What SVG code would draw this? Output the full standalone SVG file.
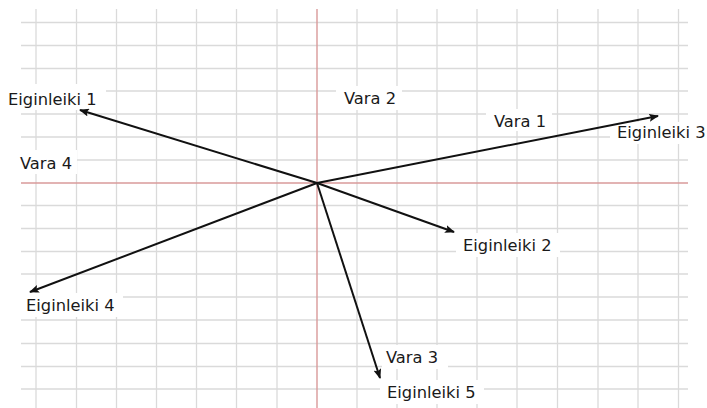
<svg xmlns="http://www.w3.org/2000/svg" width="707" height="408" viewBox="0 0 707 408">
<defs>
<style>
.g{stroke:#dadada;stroke-width:1.3;fill:none}
.ax{stroke:#d99a9a;stroke-width:1.4;fill:none}
.bg{fill:#ffffff}
.lbl{font-family:"DejaVu Sans",Verdana,sans-serif;font-size:16.3px;fill:#1a1a1a}
.c{stroke:#111;stroke-width:2;fill:none;marker-end:url(#ah)}
</style>
<marker id="ah" markerWidth="10" markerHeight="8" refX="9" refY="4" orient="auto" markerUnits="userSpaceOnUse">
<path d="M0,0 L10,4 L0,8 L2,4 z" fill="#111"/>
</marker>
</defs>
<rect width="707" height="408" fill="#ffffff"/>
<g id="grid">
<path class="g" d="M36,9V408 M76.5,9V408 M116.5,9V408 M156.5,9V408 M196.5,9V408 M236.5,9V408 M277,9V408 M357,9V408 M397,9V408 M437,9V408 M477,9V408 M517,9V408 M557.5,9V408 M598,9V408 M638,9V408 M678.5,9V408"/>
<path class="g" d="M21,22.5H688 M21,45.5H688 M21,68.5H688 M21,91H688 M21,114H688 M21,137H688 M21,160H688 M21,205.5H688 M21,228.5H688 M21,251.5H688 M21,274H688 M21,297H688 M21,320H688 M21,343.5H688 M21,366.5H688 M21,389H688"/>
<path class="ax" d="M317,9V408 M21,183H688"/>
</g>
<g id="label-backgrounds">
<rect class="bg" x="2" y="84" width="104" height="26"/>
<rect class="bg" x="336" y="86" width="66" height="24"/>
<rect class="bg" x="486" y="109" width="66" height="22"/>
<rect class="bg" x="610" y="122" width="97" height="22"/>
<rect class="bg" x="13" y="150" width="64" height="24"/>
<rect class="bg" x="456" y="233" width="104" height="24"/>
<rect class="bg" x="19" y="293" width="104" height="24"/>
<rect class="bg" x="382" y="345" width="66" height="24"/>
<rect class="bg" x="380" y="380" width="104" height="24"/>
</g>
<g id="connectors">
<line class="c" x1="317" y1="183" x2="80" y2="110"/>
<line class="c" x1="317" y1="183" x2="658" y2="116"/>
<line class="c" x1="317" y1="183" x2="454" y2="232"/>
<line class="c" x1="317" y1="183" x2="30" y2="292"/>
<line class="c" x1="317" y1="183" x2="380" y2="378"/>
</g>
<g id="eiginleiki-1"><text class="lbl" x="8" y="105">Eiginleiki 1</text></g>
<g id="vara-2"><text class="lbl" x="344" y="104">Vara 2</text></g>
<g id="vara-1"><text class="lbl" x="494" y="127">Vara 1</text></g>
<g id="eiginleiki-3"><text class="lbl" x="617" y="138">Eiginleiki 3</text></g>
<g id="vara-4"><text class="lbl" x="20" y="169">Vara 4</text></g>
<g id="eiginleiki-2"><text class="lbl" x="463" y="251">Eiginleiki 2</text></g>
<g id="eiginleiki-4"><text class="lbl" x="26" y="311">Eiginleiki 4</text></g>
<g id="vara-3"><text class="lbl" x="386" y="363">Vara 3</text></g>
<g id="eiginleiki-5"><text class="lbl" x="387" y="398">Eiginleiki 5</text></g>
</svg>
